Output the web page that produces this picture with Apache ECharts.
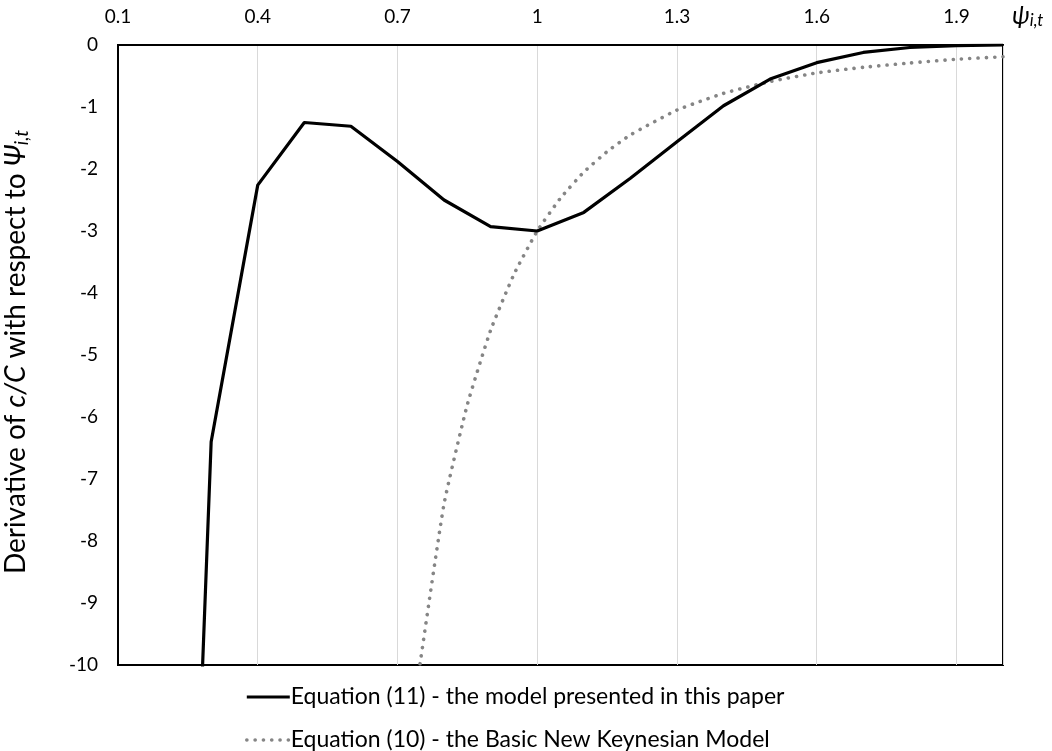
<!DOCTYPE html>
<html>
<head>
<meta charset="utf-8">
<script src="https://cdn.jsdelivr.net/npm/echarts@6/dist/echarts.min.js"></script>
<style>html,body{margin:0;padding:0;background:#fff}#c{width:1052px;height:751px}</style>
</head>
<body>
<div id="c"></div>
<script>
// Data
var modelX = [0.2, 0.3, 0.4, 0.5, 0.6, 0.7, 0.8, 0.9, 1.0, 1.1, 1.2, 1.3, 1.4, 1.5, 1.6, 1.7, 1.8, 1.9, 2.0];
var modelY = [-26, -6.4, -2.26, -1.25, -1.31, -1.88, -2.5, -2.93, -3.0, -2.7, -2.15, -1.56, -0.98, -0.55, -0.285, -0.12, -0.04, -0.01, 0];
var nkX = [0.7, 0.75, 0.8, 0.85, 0.9, 0.95, 1.0, 1.05, 1.1, 1.15, 1.2, 1.3, 1.4, 1.5, 1.6, 1.7, 1.8, 1.9, 2.0];
var nkY = [-12.5, -9.9, -7.4, -5.8, -4.6, -3.7, -3.0, -2.47, -2.05, -1.72, -1.45, -1.05, -0.78, -0.59, -0.45, -0.36, -0.29, -0.23, -0.19];
var seriesNames = ['Equation (11) - the model presented in this paper', 'Equation (10) - the Basic New Keynesian Model'];

function pairs(xs, ys) { return xs.map(function (x, i) { return [x, ys[i]]; }); }

var FONT = 'Lato, "Open Sans", sans-serif';
var blackLine = { color: '#000', width: 3.2, join: 'round' };
var grayLine = { color: '#858585', width: 3.6, type: [0.1, 8.2], cap: 'round' };
var chart = echarts.init(document.getElementById('c'), null, { renderer: 'canvas' });
chart.setOption({
  animation: false,
  backgroundColor: '#fff',
  textStyle: { fontFamily: FONT, color: '#000' },
  grid: { left: 118, right: 49, top: 45, bottom: 86, outerBoundsMode: 'none', containLabel: false,
          show: true, borderColor: '#000', borderWidth: 2, backgroundColor: 'transparent' },
  legend: {
    orient: 'vertical', left: 245, top: 685, padding: 0, itemGap: 19, itemWidth: 43, itemHeight: 22,
    height: 70,
    itemStyle: { opacity: 0 },
    textStyle: { fontFamily: FONT, fontSize: 23, lineHeight: 24, color: '#000', padding: [0, 0, 0, -4] },
    data: [
      { name: seriesNames[0], lineStyle: blackLine },
      { name: seriesNames[1], lineStyle: grayLine }
    ]
  },
  xAxis: {
    type: 'value', position: 'top', min: 0.1, max: 2.0, interval: 0.3,
    axisLine: { show: true, onZero: false, lineStyle: { color: '#000', width: 2 } },
    axisTick: { show: false },
    splitLine: { show: true, lineStyle: { color: '#d9d9d9', width: 1 } },
    axisLabel: {
      color: '#000', fontSize: 19, fontFamily: FONT, margin: 19, showMaxLabel: false,
      formatter: function (v) { var r = Math.round(v * 10) / 10; return (Math.abs(r - 2.0) < 1e-6) ? '' : String(r); }
    },
    name: '{p|ψ}{s|i,t}', nameLocation: 'end', nameGap: 9,
    nameTextStyle: {
      verticalAlign: 'bottom', padding: [0, 0, 16, 0],
      rich: {
        p: { fontFamily: FONT, fontSize: 25, fontStyle: 'italic', color: '#000' },
        s: { fontFamily: FONT, fontSize: 17, fontStyle: 'italic', color: '#000', verticalAlign: 'bottom', padding: [10, 0, 0, 0] }
      }
    }
  },
  yAxis: {
    type: 'value', min: -10, max: 0, interval: 1,
    axisLine: { show: true, onZero: false, lineStyle: { color: '#000', width: 2 } },
    axisTick: { show: false },
    splitLine: { show: false },
    axisLabel: { color: '#000', fontSize: 19, fontFamily: FONT, margin: 20 },
    name: '{t|Derivative of }{i|c/C}{t| with respect to }{i|Ψ}{s|i,t}',
    nameLocation: 'middle', nameGap: 87, nameRotate: 90,
    nameTextStyle: {
      padding: [0, 0, 0, 6],
      rich: {
        t: { fontFamily: FONT, fontSize: 28, color: '#000' },
        i: { fontFamily: FONT, fontSize: 28, fontStyle: 'italic', color: '#000' },
        s: { fontFamily: FONT, fontSize: 19, fontStyle: 'italic', color: '#000', padding: [12, 0, 0, 0] }
      }
    }
  },
  series: [
    {
      name: seriesNames[0], type: 'line', data: pairs(modelX, modelY), showSymbol: false, symbol: 'none',
      clip: true, z: 3, lineStyle: blackLine, itemStyle: { color: '#000' }
    },
    {
      name: seriesNames[1], type: 'line', data: pairs(nkX, nkY), showSymbol: false, symbol: 'none',
      clip: true, smooth: 0.15, z: 2, lineStyle: grayLine, itemStyle: { color: '#858585' }
    }
  ]
});
</script>
</body>
</html>
